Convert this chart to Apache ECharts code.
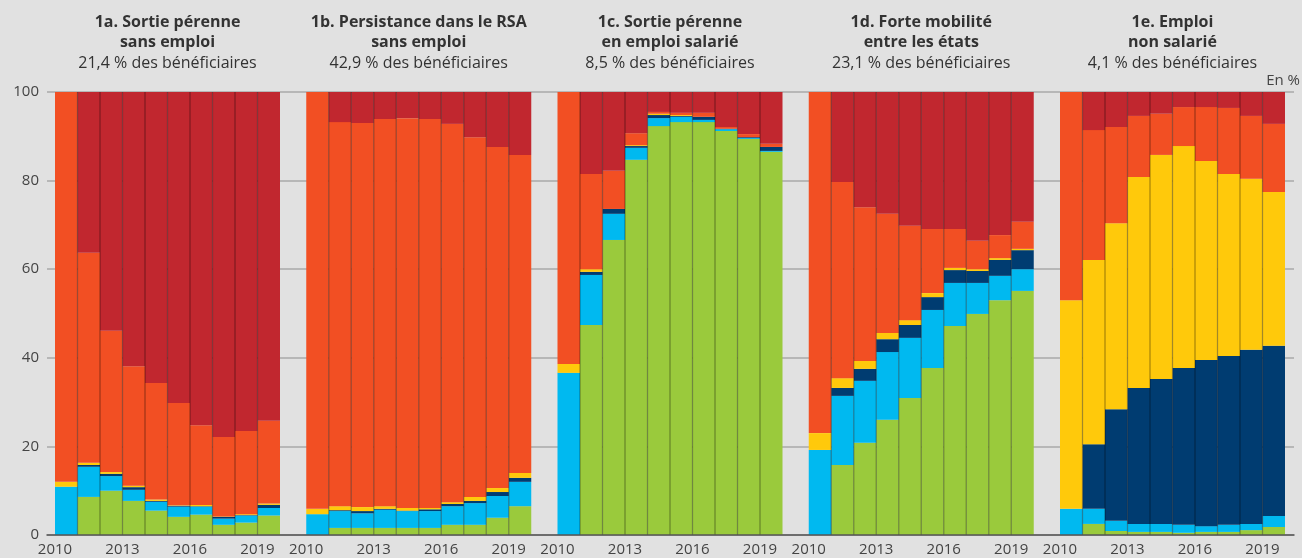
<!DOCTYPE html>
<html>
<head>
<meta charset="utf-8">
<script src="https://cdn.jsdelivr.net/npm/echarts@6/dist/echarts.min.js"></script>
<style>
  html, body { margin: 0; padding: 0; background: #e1e1e1; }
  #chart { width: 1302px; height: 558px; }
</style>
</head>
<body>
<div id="chart"></div>
<script>
  // années
  const years = ['2010', '2011', '2012', '2013', '2014', '2015', '2016', '2017', '2018', '2019']
  const yTicks = [0, 20, 40, 60, 80, 100]
  const panelTitles = [
    '1a. Sortie pérenne\nsans emploi',
    '1b. Persistance dans le RSA\nsans emploi',
    '1c. Sortie pérenne\nen emploi salarié',
    '1d. Forte mobilité\nentre les états',
    '1e. Emploi\nnon salarié'
  ]
  const panelShares = ['21,4 % des bénéficiaires', '42,9 % des bénéficiaires', '8,5 % des bénéficiaires', '23,1 % des bénéficiaires', '4,1 % des bénéficiaires']
  const stateNames = ['Emploi salarié hors RSA', 'RSA et emploi salarié', 'Emploi non salarié hors RSA', 'RSA et emploi non salarié', 'RSA sans emploi', 'Hors RSA sans emploi']
  const stateColors = ['#9aca3c', '#00b9f0', '#003c71', '#ffc90b', '#f24f23', '#c1272f']

  // 1a
  const aGreen = [0, 8.6, 10.0, 7.7, 5.5, 4.1, 4.6, 2.3, 2.8, 4.4]
  const aBlue = [10.9, 6.8, 3.3, 2.5, 2.0, 2.3, 1.8, 1.4, 1.6, 1.7]
  const aNavy = [0, 0.4, 0.5, 0.6, 0.2, 0.2, 0.1, 0.4, 0.1, 0.7]
  const aYellow = [1.1, 0.5, 0.4, 0.3, 0.3, 0.1, 0.3, 0.1, 0.2, 0.3]
  const aOrange = [88.0, 47.4, 31.9, 27.0, 26.3, 23.1, 18.0, 17.9, 18.8, 18.7]
  const aRed = [0, 36.3, 53.9, 61.9, 65.7, 70.2, 75.2, 77.9, 76.5, 74.2]
  // 1b
  const bGreen = [0, 1.6, 1.6, 1.6, 1.6, 1.6, 2.3, 2.3, 3.9, 6.5]
  const bBlue = [4.7, 3.8, 3.3, 4.1, 3.8, 3.8, 4.2, 4.9, 4.9, 5.5]
  const bNavy = [0, 0.2, 0.5, 0.2, 0.1, 0.4, 0.5, 0.5, 0.9, 0.9]
  const bYellow = [1.2, 0.9, 0.9, 0.6, 0.6, 0.3, 0.4, 0.9, 0.9, 1.1]
  const bOrange = [94.1, 86.7, 86.7, 87.4, 88.0, 87.8, 85.4, 81.2, 77.0, 71.8]
  const bRed = [0, 6.8, 7.0, 6.1, 5.9, 6.1, 7.2, 10.2, 12.4, 14.2]
  // 1c
  const cGreen = [0, 47.4, 66.6, 84.7, 92.3, 93.2, 93.2, 91.2, 89.4, 86.5]
  const cBlue = [36.6, 11.3, 5.9, 2.7, 1.8, 1.2, 0.5, 0.4, 0.2, 0.2]
  const cNavy = [0, 0.7, 1.1, 0.4, 0.7, 0.2, 0.7, 0.1, 0.2, 0.9]
  const cYellow = [2.0, 0.6, 0, 0.2, 0.3, 0.2, 0, 0, 0, 0]
  const cOrange = [61.4, 21.5, 8.6, 2.7, 0.4, 0.5, 0.9, 0.4, 0.7, 0.7]
  const cRed = [0, 18.5, 17.8, 9.3, 4.5, 4.7, 4.7, 7.9, 9.5, 11.7]
  // 1d
  const dGreen = [0, 15.8, 20.8, 26.0, 30.9, 37.7, 47.2, 49.9, 53.0, 55.1]
  const dBlue = [19.2, 15.6, 14.0, 15.3, 13.6, 13.1, 9.7, 7.0, 5.5, 4.9]
  const dNavy = [0, 1.8, 2.7, 2.9, 2.9, 2.9, 2.9, 2.7, 3.6, 4.3]
  const dYellow = [3.8, 2.2, 1.8, 1.4, 1.1, 0.9, 0.5, 0.4, 0.4, 0.3]
  const dOrange = [77.0, 44.3, 34.7, 26.9, 21.3, 14.5, 8.8, 6.4, 5.2, 6.1]
  const dRed = [0, 20.3, 26.0, 27.5, 30.2, 30.9, 30.9, 33.6, 32.3, 29.3]
  // 1e
  const eGreen = [0, 2.5, 0.9, 0.7, 0.7, 0.5, 0.7, 0.7, 1.1, 1.8]
  const eBlue = [5.9, 3.4, 2.3, 1.8, 1.8, 1.8, 1.3, 1.6, 1.4, 2.5]
  const eNavy = [0, 14.6, 25.2, 30.7, 32.7, 35.4, 37.5, 38.1, 39.3, 38.4]
  const eYellow = [47.1, 41.6, 42.0, 47.6, 50.6, 50.1, 44.9, 41.1, 38.6, 34.7]
  const eOrange = [47.0, 29.3, 21.7, 13.8, 9.3, 8.8, 12.2, 14.9, 14.2, 15.4]
  const eRed = [0, 8.6, 7.9, 5.4, 4.9, 3.4, 3.4, 3.6, 5.4, 7.2]

  const panels = [
    [aGreen, aBlue, aNavy, aYellow, aOrange, aRed],
    [bGreen, bBlue, bNavy, bYellow, bOrange, bRed],
    [cGreen, cBlue, cNavy, cYellow, cOrange, cRed],
    [dGreen, dBlue, dNavy, dYellow, dOrange, dRed],
    [eGreen, eBlue, eNavy, eYellow, eOrange, eRed]
  ]

  const FONT = '"Open Sans", "DejaVu Sans", sans-serif'
  const TOP = 92, BOTTOM = 23
  const panelLeft = i => 55 + i * 251.25
  const panelWidth = 225

  const grid = [{ left: 47, right: 8, top: TOP, bottom: BOTTOM }]
  const xAxis = [{
    gridIndex: 0, type: 'value', min: 0, max: 1, z: 10,
    axisLine: { show: true, lineStyle: { color: '#555', width: 1.5 } },
    axisTick: { show: false }, axisLabel: { show: false }, splitLine: { show: false }
  }]
  const yAxis = [{
    gridIndex: 0, type: 'value', min: yTicks[0], max: yTicks[yTicks.length - 1], interval: 20,
    axisLine: { show: false }, axisTick: { show: false },
    axisLabel: { color: '#444', fontSize: 15, fontFamily: FONT, margin: 8 },
    splitLine: { lineStyle: { color: '#a9a9a9', width: 1.5 } }
  }]
  const series = []
  const graphic = []

  panels.forEach((vals, p) => {
    const gi = p + 1
    grid.push({ left: panelLeft(p), width: panelWidth, top: TOP, bottom: BOTTOM })
    xAxis.push({
      gridIndex: gi, type: 'category', data: years,
      axisLine: { show: false }, axisTick: { show: false },
      //étiquettes décalées sur le bord gauche de la barre
      axisLabel: { interval: 2, color: '#444', fontSize: 15, fontFamily: FONT, margin: 7, padding: [0, panelWidth / 10, 0, 0] }
    })
    yAxis.push({ gridIndex: gi, type: 'value', min: 0, max: 100, show: false })
    vals.forEach((arr, s) => {
      series.push({
        name: stateNames[s], type: 'bar', stack: 'p' + p,
        xAxisIndex: gi, yAxisIndex: gi,
        barCategoryGap: 0,
        itemStyle: { color: stateColors[s] },
        data: arr
      })
    })
    // traits de séparation entre les barres
    series.push({
      type: 'custom', xAxisIndex: gi, yAxisIndex: gi, z: 5, silent: true,
      data: years.slice(1).map((y, i) => [i + 1]),
      renderItem: function (params, api) {
        const bw = api.size([1, 0])[0]
        const p0 = api.coord([api.value(0), 0])
        const p1 = api.coord([api.value(0), 100])
        const x = p0[0] - bw / 2
        return {
          type: 'line',
          shape: { x1: x, y1: p0[1], x2: x, y2: p1[1] },
          style: { stroke: 'rgba(0,0,0,0.35)', lineWidth: 1.2 }
        }
      }
    })
    const cx = panelLeft(p) + panelWidth / 2
    graphic.push({
      type: 'text', x: cx, y: 12,
      style: { text: panelTitles[p], fill: '#333', fontSize: 16, fontWeight: 'bold', fontFamily: FONT, align: 'center', verticalAlign: 'top', lineHeight: 20 }
    })
    graphic.push({
      type: 'text', x: cx, y: 53,
      style: { text: panelShares[p], fill: '#333', fontSize: 16, fontFamily: FONT, align: 'center', verticalAlign: 'top', lineHeight: 20 }
    })
  })

  graphic.push({
    type: 'text', right: 2, top: 73,
    style: { text: 'En %', fill: '#444', fontSize: 15, fontFamily: FONT }
  })

  const myChart = echarts.init(document.getElementById('chart'))
  myChart.setOption({
    backgroundColor: '#e1e1e1',
    animation: false,
    grid: grid,
    xAxis: xAxis,
    yAxis: yAxis,
    graphic: graphic,
    series: series
  })
</script>
</body>
</html>
